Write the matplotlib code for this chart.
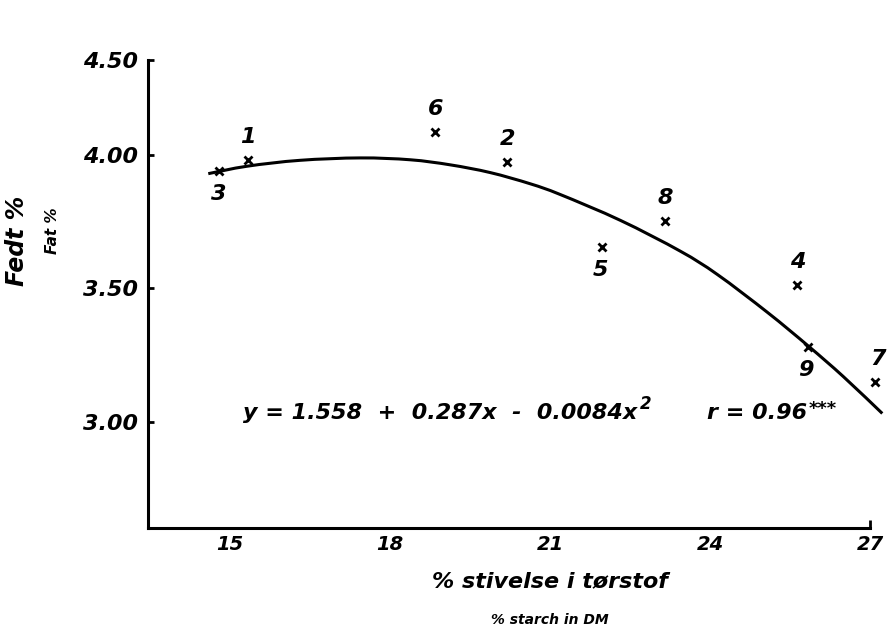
import matplotlib
matplotlib.use('Agg')
import matplotlib.pyplot as plt
from matplotlib.path import Path
from matplotlib.patches import PathPatch
import numpy as np

# Data: fat % against starch % in dry matter, cows 1-9
# -------------------------------------------------------------------------------------------
point_ids = ['1', '2', '3', '4', '5', '6', '7', '8', '9']
starch = [15.34, 20.20, 14.79, 25.64, 21.98, 18.85, 27.10, 23.16, 25.84]
fat = [3.981, 3.974, 3.940, 3.513, 3.655, 4.086, 3.150, 3.753, 3.281]

# regression curve as drawn
curve_x = [14.59, 15.32, 16.31, 17.44, 18.38, 19.13, 19.88, 20.63,
           21.19, 22.32, 23.44, 24.14, 25.08, 25.84, 26.50, 27.23]
curve_y = [3.930, 3.958, 3.980, 3.989, 3.982, 3.963, 3.934, 3.892,
           3.852, 3.755, 3.640, 3.552, 3.410, 3.285, 3.170, 3.032]

x_ticks = [15, 18, 21, 24, 27]
y_ticks = [3.00, 3.50, 4.00, 4.50]
y_ticklabels = ['3.00', '3.50', '4.00', '4.50']

equation = 'y = 1.558  +  0.287x  -  0.0084x'
corr = 'r = 0.96'
signif = '***'

# Broken y scale: compressed above 4.2
# -------------------------------------------------------------------------------------------
BRK = 4.2
K = 0.519


def fwd(y):
    y = np.asarray(y, dtype=float)
    return np.where(y <= BRK, y, BRK + (y - BRK) * K)


def inv(t):
    t = np.asarray(t, dtype=float)
    return np.where(t <= BRK, t, BRK + (t - BRK) / K)


def smooth_path(xs, ys):
    # cubic bezier through every point (catmull-rom tangents)
    p = np.column_stack([xs, ys])
    n = len(p)
    verts = [p[0]]
    codes = [Path.MOVETO]
    for i in range(n - 1):
        p0 = p[max(i - 1, 0)]
        p1 = p[i]
        p2 = p[i + 1]
        p3 = p[min(i + 2, n - 1)]
        verts += [p1 + (p2 - p0) / 6, p2 - (p3 - p1) / 6, p2]
        codes += [Path.CURVE4] * 3
    return Path(verts, codes)


# Plotting
# -------------------------------------------------------------------------------------------
font = dict(family='DejaVu Sans', style='italic', weight='bold')

fig = plt.figure(figsize=(8.96, 6.35), dpi=100)
ax = fig.add_axes([0.1652, 0.1685, 0.8058, 0.737])
ax.set_yscale('function', functions=(fwd, inv))

curve = PathPatch(smooth_path(curve_x, curve_y), facecolor='none', edgecolor='black',
                  lw=2.2, clip_on=False, capstyle='butt')
ax.add_patch(curve)
ax.plot(starch, fat, linestyle='none', marker='x', color='black', ms=6, mew=2, clip_on=False)

# number labels above / below the points
below = {'3', '5', '9'}
nudge = {'7': 2, '9': -2, '5': -1}
for pid, sx, fy in zip(point_ids, starch, fat):
    dy = -16.5 if pid in below else 16.5
    ax.annotate(pid, (sx, fy), xytext=(nudge.get(pid, 0), dy), textcoords='offset points',
                ha='center', va='center', fontsize=16, annotation_clip=False, **font)

t_eq = ax.text(15.24, 3.034, equation, ha='left', va='center', fontsize=16, **font)
ax.annotate('2', xy=(1, 1), xycoords=t_eq, xytext=(2, -1), textcoords='offset points',
            ha='left', va='center', fontsize=12, **font)
t_r = ax.text(23.95, 3.034, corr, ha='left', va='center', fontsize=16, **font)
ax.annotate(signif, xy=(1, 1), xycoords=t_r, xytext=(1, 2), textcoords='offset points',
            ha='left', va='top', fontsize=13, **font)

ax.set_xlim(13.46, 27.0)
ax.set_ylim(2.603, 4.5)

# axes: only left and bottom lines
for s in ['top', 'right']:
    ax.spines[s].set_visible(False)
for s in ['left', 'bottom']:
    ax.spines[s].set_linewidth(2.2)

ax.set_xticks(x_ticks)
ax.set_xticklabels([str(v) for v in x_ticks], fontsize=14, **font)
ax.tick_params(axis='x', length=0, pad=5)
ax.xaxis.remove_overlapping_locs = False
ax.set_xticks([27], minor=True)
ax.tick_params(axis='x', which='minor', direction='in', length=6, width=2)

ax.set_yticks(y_ticks)
ax.set_yticklabels(y_ticklabels, fontsize=16, **font)
ax.tick_params(axis='y', direction='in', length=4.5, width=2, pad=7)
ax.yaxis.set_minor_locator(plt.NullLocator())

# axis titles, Danish with English below
fig.text(17 / 896, 1 - 241 / 635, 'Fedt %', rotation=90, ha='center', va='center', fontsize=17, **font)
fig.text(52 / 896, 1 - 231 / 635, 'Fat %', rotation=90, ha='center', va='center', fontsize=11, **font)
fig.text(550 / 896, 1 - 581 / 635, '% stivelse i tørstof', ha='center', va='center', fontsize=16, **font)
fig.text(550 / 896, 1 - 620 / 635, '% starch in DM', ha='center', va='center', fontsize=10, **font)

plt.savefig('out.png', dpi=100)
